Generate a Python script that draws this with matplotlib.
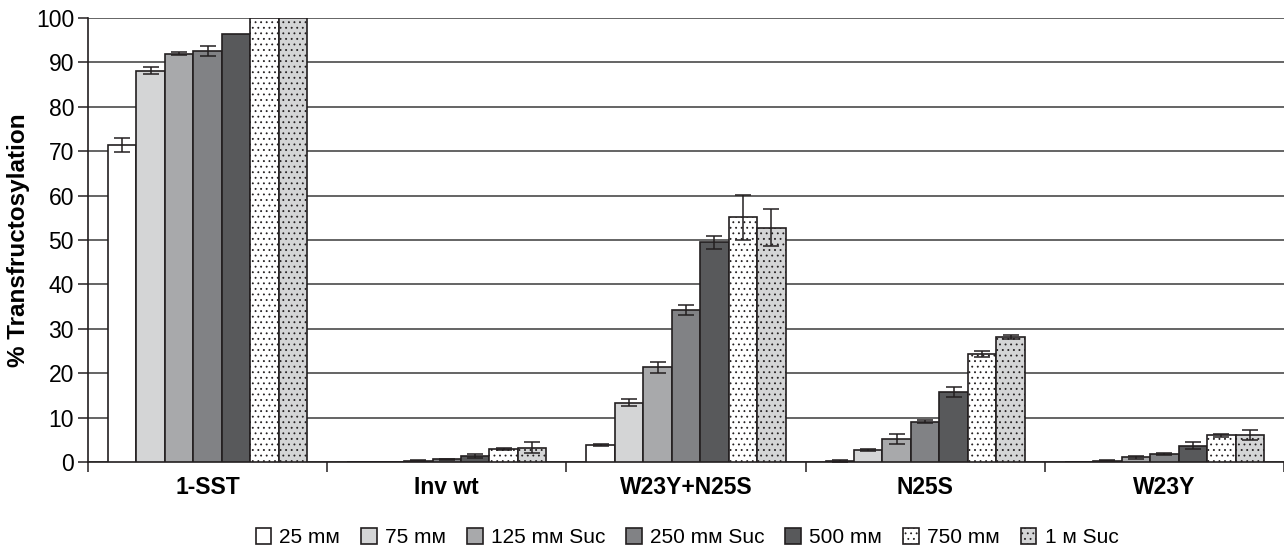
import numpy as np
import matplotlib.pyplot as plt

plt.rcParams['font.family'] = ['Liberation Sans', 'DejaVu Sans']

# datos
grupos = ['1-SST', 'Inv wt', 'W23Y+N25S', 'N25S', 'W23Y']
series = ['25 mᴍ', '75 mᴍ', '125 mᴍ Suc', '250 mᴍ Suc', '500 mᴍ', '750 mᴍ', '1 ᴍ Suc']

valores = [
    [71.4, 0.1, 3.8, 0.3, 0.05],
    [88.1, 0.1, 13.4, 2.7, 0.3],
    [92.0, 0.3, 21.3, 5.2, 1.05],
    [92.6, 0.6, 34.2, 9.1, 1.8],
    [96.5, 1.4, 49.5, 15.8, 3.7],
    [100.0, 2.9, 55.1, 24.3, 6.0],
    [100.0, 3.2, 52.8, 28.1, 6.0],
]
errores = [
    [1.6, 0.0, 0.3, 0.2, 0.0],
    [0.8, 0.0, 0.7, 0.3, 0.1],
    [0.3, 0.1, 1.2, 1.2, 0.3],
    [1.2, 0.1, 1.2, 0.3, 0.2],
    [0.0, 0.4, 1.5, 1.2, 0.75],
    [0.0, 0.3, 5.0, 0.7, 0.3],
    [0.0, 1.2, 4.1, 0.4, 1.1],
]

colores = ['#ffffff', '#d4d5d6', '#a8a9ab', '#818285', '#58595b', '#ffffff', '#d4d5d6']
tramas = [None, None, None, None, None, '...', '...']
borde = '#231f20'

fig = plt.figure(figsize=(12.84, 5.47), dpi=100)
ax = fig.add_axes([0.0685, 0.1554, 0.9315, 0.8116])

x = np.arange(len(grupos))
ancho = 0.119
plt.rcParams['hatch.linewidth'] = 0.6
for i in range(len(series)):
    pos = x + (i - 3) * ancho
    ax.bar(pos, valores[i], ancho, color=colores[i], edgecolor=borde, linewidth=1.2,
           hatch=tramas[i], label=series[i], zorder=3)
    err = np.array(errores[i])
    mask = err > 0
    ax.errorbar(pos[mask], np.array(valores[i])[mask], yerr=err[mask], fmt='none',
                ecolor=borde, elinewidth=1.1, capsize=6, capthick=1.1, zorder=4)

ax.set_ylim(0, 100)
ax.set_xlim(-0.5, 4.5)
ax.set_yticks(np.arange(0, 101, 10))
ax.yaxis.grid(True, color='#3a3a3a', linewidth=1.1, zorder=0)
ax.set_axisbelow(True)

ax.set_xticks(np.arange(-0.5, 5.0, 1.0))
ax.set_xticklabels([])
ax.set_xticks(x, minor=True)
ax.set_xticklabels(grupos, minor=True, fontsize=16.5, fontweight='bold')
ax.tick_params(axis='x', which='minor', length=0, pad=10)
ax.tick_params(axis='x', which='major', length=7, width=1.1, color=borde)
ax.tick_params(axis='y', length=7, width=1.1, color=borde, labelsize=16.5, pad=3)

for s in ['top', 'right']:
    ax.spines[s].set_visible(False)
ax.spines['left'].set_color(borde)
ax.spines['bottom'].set_color(borde)
ax.spines['left'].set_linewidth(1.2)
ax.spines['bottom'].set_linewidth(1.2)

ax.set_ylabel('% Transfructosylation', fontsize=17.5, fontweight='bold', labelpad=4)

fig.legend(loc='lower center', bbox_to_anchor=(0.535, -0.035), ncol=7, frameon=False,
           fontsize=15, handlelength=0.75, handleheight=0.75, handletextpad=0.4,
           columnspacing=1.0)

plt.savefig('out.png', dpi=100)
